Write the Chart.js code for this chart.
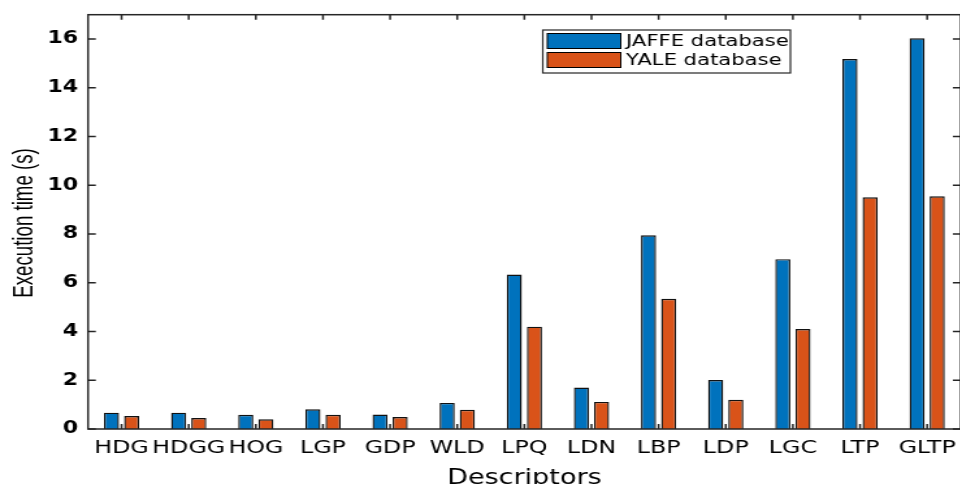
<!DOCTYPE html>
<html>
<head>
<meta charset="utf-8">
<script src="https://cdn.jsdelivr.net/npm/chart.js@4.4.1/dist/chart.umd.min.js"></script>
<style>
  html, body { margin: 0; padding: 0; background: #fff; overflow: hidden; }
  #wrap { width: 960px; height: 484px; overflow: hidden; }
  /* the source figure is stretched sideways, so the canvas is too */
  #chart { transform: scaleX(1.3); transform-origin: 0 0; display: block; }
</style>
</head>
<body>
<div id="wrap"><canvas id="chart" width="740" height="484"></canvas></div>
<script>
const descriptors = ['HDG', 'HDGG', 'HOG', 'LGP', 'GDP', 'WLD', 'LPQ', 'LDN', 'LBP', 'LDP', 'LGC', 'LTP', 'GLTP'];
const jaffeTimes = [0.67, 0.67, 0.58, 0.81, 0.59, 1.07, 6.34, 1.70, 7.95, 2.01, 6.97, 15.18, 16.03];
const yaleTimes = [0.53, 0.45, 0.40, 0.58, 0.49, 0.79, 4.20, 1.11, 5.34, 1.20, 4.10, 9.51, 9.55];
const seriesNames = ['JAFFE database', 'YALE database'];
const seriesColors = ['#0072BD', '#D95319'];
const yTicks = [0, 2, 4, 6, 8, 10, 12, 14, 16];
const yTitle = 'Execution time (s)';

const axisColor = '#262626';

// MATLAB style box with inward ticks on all four sides, legend and y title
const boxPlugin = {
    id: 'box',
    beforeDatasetsDraw(chart) {
        const ctx = chart.ctx;
        const a = chart.chartArea;
        const xs = chart.scales.x;
        const ys = chart.scales.y;
        ctx.save();
        ctx.strokeStyle = axisColor;
        ctx.lineWidth = 1.5;
        ctx.beginPath();
        descriptors.forEach((d, i) => {
            const x = xs.getPixelForValue(i);
            ctx.moveTo(x, a.bottom);
            ctx.lineTo(x, a.bottom - 5);
            ctx.moveTo(x, a.top);
            ctx.lineTo(x, a.top + 5);
        });
        yTicks.forEach(v => {
            const y = ys.getPixelForValue(v);
            ctx.moveTo(a.left, y);
            ctx.lineTo(a.left + 6, y);
            ctx.moveTo(a.right, y);
            ctx.lineTo(a.right - 6, y);
        });
        ctx.stroke();
        ctx.restore();
    },
    afterDatasetsDraw(chart) {
        const ctx = chart.ctx;
        const a = chart.chartArea;
        ctx.save();
        ctx.strokeStyle = axisColor;
        ctx.lineWidth = 1.5;
        ctx.strokeRect(a.left, a.top, a.right - a.left, a.bottom - a.top);

        // legend box inside the plot
        const bx = 417.5, by = 30, bw = 190.5, bh = 43;
        ctx.fillStyle = '#fff';
        ctx.fillRect(bx, by, bw, bh);
        ctx.lineWidth = 1.2;
        ctx.strokeRect(bx, by, bw, bh);
        ctx.font = '16.3px "DejaVu Sans"';
        ctx.textBaseline = 'middle';
        chart.data.datasets.forEach((ds, i) => {
            const sy = by + 3.5 + i * 19;
            ctx.fillStyle = ds.backgroundColor;
            ctx.fillRect(bx + 3.5, sy, 56.5, 15);
            ctx.strokeStyle = '#000';
            ctx.lineWidth = 1;
            ctx.strokeRect(bx + 3.5, sy, 56.5, 15);
            ctx.fillStyle = '#000';
            ctx.fillText(ds.label, bx + 64, sy + 8);
        });

        // y title, condensed along its length
        ctx.translate(24.8, 223);
        ctx.rotate(-Math.PI / 2);
        ctx.scale(0.85, 1);
        ctx.font = '22px "Liberation Sans"';
        ctx.textAlign = 'center';
        ctx.textBaseline = 'alphabetic';
        ctx.fillStyle = '#000';
        ctx.fillText(yTitle, 0, 0);
        ctx.restore();
    }
};

new Chart(document.getElementById('chart'), {
    type: 'bar',
    data: {
        labels: descriptors,
        datasets: [
            {
                label: seriesNames[0],
                data: jaffeTimes,
                backgroundColor: seriesColors[0],
                borderColor: '#111',
                borderWidth: 1.4
            },
            {
                label: seriesNames[1],
                data: yaleTimes,
                backgroundColor: seriesColors[1],
                borderColor: '#111',
                borderWidth: 1.4
            }
        ]
    },
    options: {
        responsive: false,
        animation: false,
        categoryPercentage: 0.6,
        barPercentage: 0.75,
        layout: { padding: { top: 14.7, right: 1, left: 0, bottom: 0 } },
        plugins: {
            legend: { display: false },
            tooltip: { enabled: false }
        },
        scales: {
            x: {
                grid: { display: false, drawTicks: false },
                border: { display: false },
                ticks: {
                    autoSkip: false,
                    maxRotation: 0,
                    minRotation: 0,
                    padding: 8,
                    color: '#000',
                    font: { family: 'DejaVu Sans', size: 18.3 }
                },
                title: {
                    display: true,
                    text: 'Descriptors',
                    color: '#000',
                    padding: { top: 1, bottom: -7 },
                    font: { family: 'DejaVu Sans', size: 20.8 }
                },
                afterFit(scale) {
                    scale.height = 55;
                    scale.paddingLeft = 0;
                    scale.paddingRight = 0;
                }
            },
            y: {
                min: 0,
                max: 17,
                grid: { display: false, drawTicks: false },
                border: { display: false },
                ticks: {
                    stepSize: 2,
                    includeBounds: false,
                    padding: 7.5,
                    color: '#000',
                    font: { family: 'DejaVu Sans', size: 17, weight: 'bold' }
                },
                afterFit(scale) {
                    scale.width = 67.7;
                    scale.paddingTop = 0;
                    scale.paddingBottom = 0;
                }
            }
        }
    },
    plugins: [boxPlugin]
});
</script>
</body>
</html>
